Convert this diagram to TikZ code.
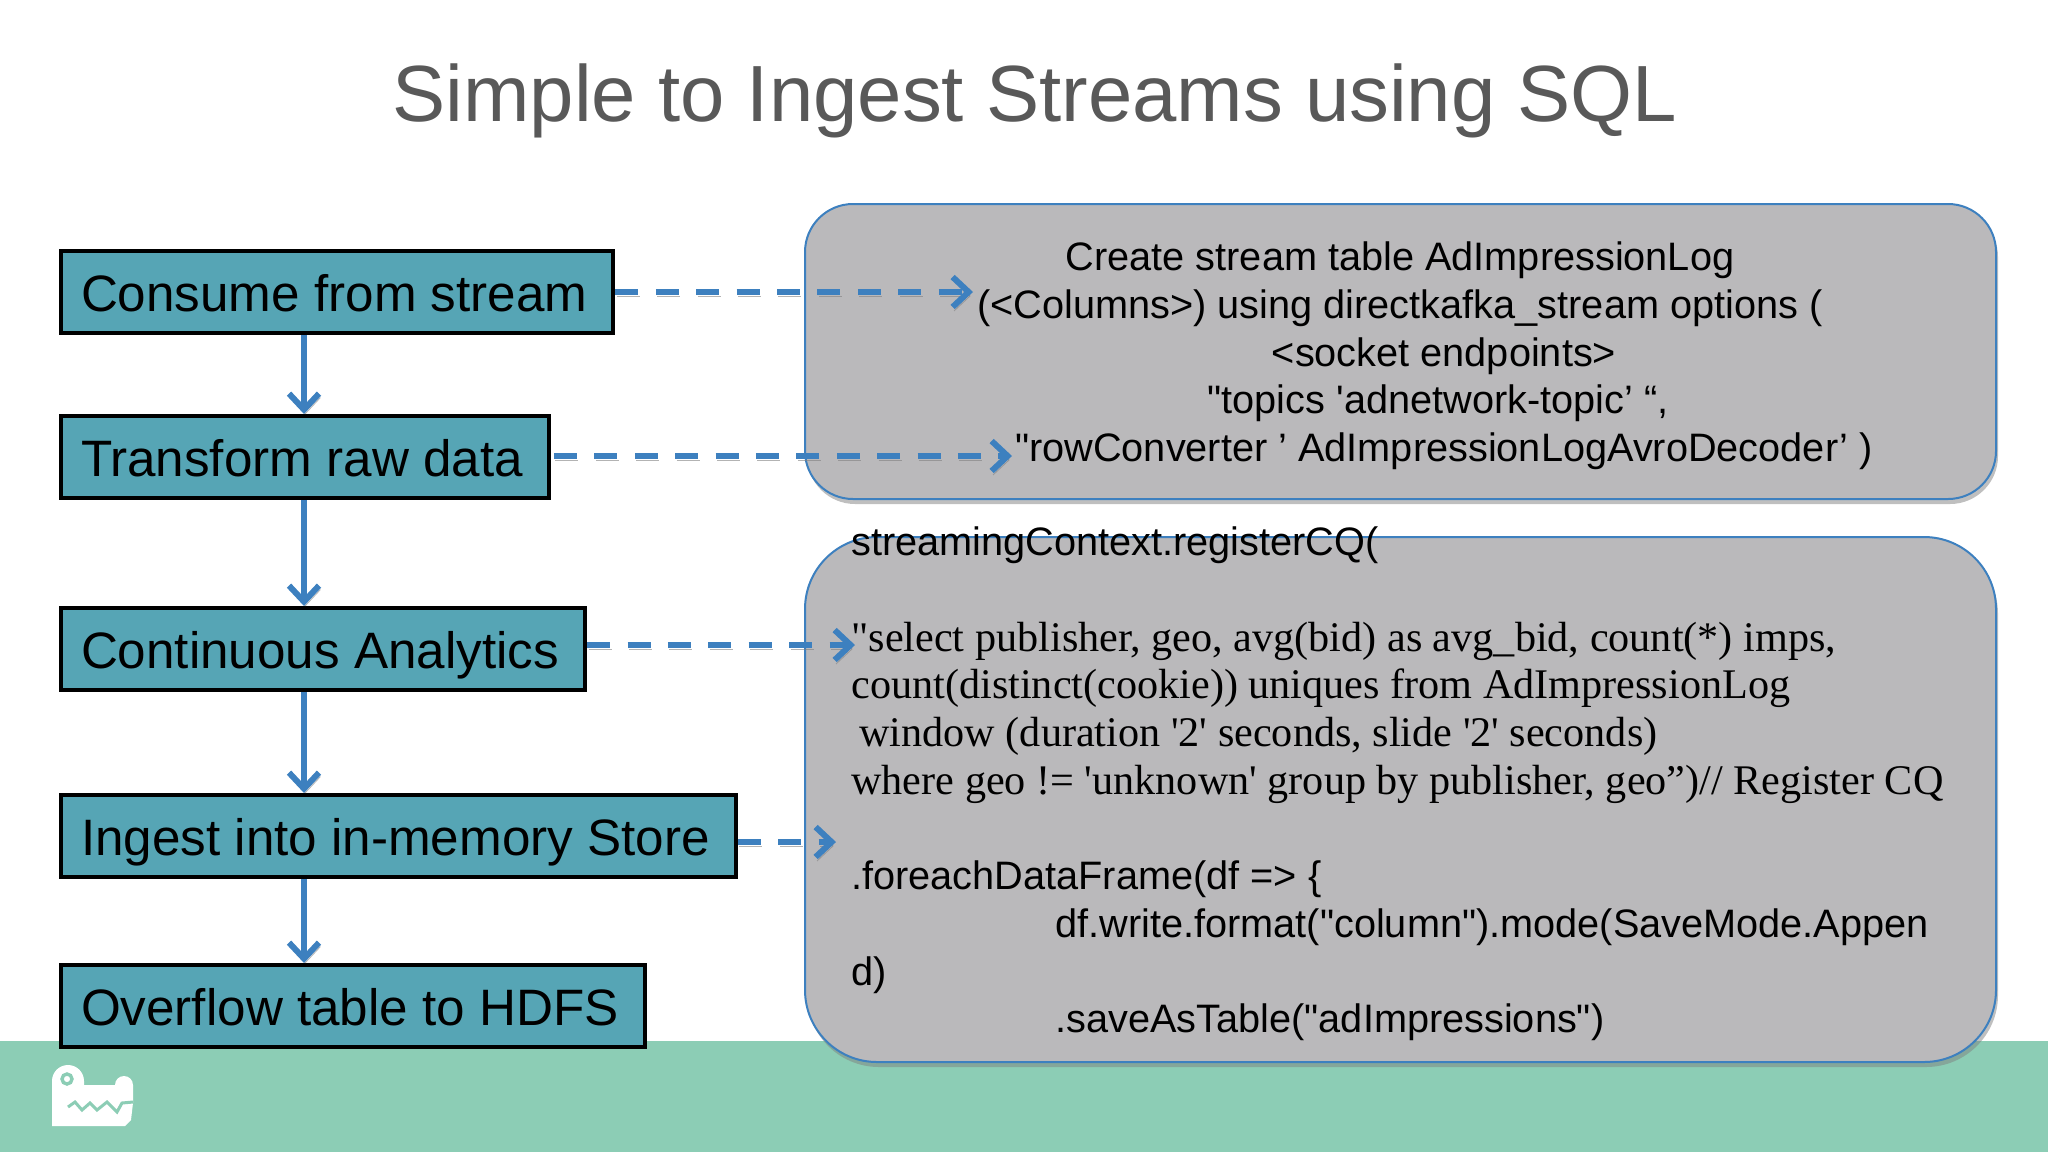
\documentclass[tikz,border=0pt]{standalone}
\usepackage{fontspec}
\setmainfont{Liberation Sans}[Ligatures=TeXOff]
\newfontfamily\serifcq{Liberation Serif}[Ligatures=TeXOff]
\usetikzlibrary{arrows.meta,shadows}
\definecolor{bandgreen}{HTML}{8CCDB5}
\definecolor{stagefill}{HTML}{56A5B5}
\definecolor{querygray}{HTML}{BAB9BB}
\definecolor{flowblue}{HTML}{3D80BF}
\definecolor{titlegray}{HTML}{595959}
\newcommand{\cqline}[1]{{\serifcq\fontsize{21.1}{23.85}\selectfont #1}}
\tikzset{
  stage/.style={draw=black,line width=2pt,fill=stagefill,anchor=west,inner xsep=10pt,
    inner ysep=0pt,minimum height=41pt,text height=24.7pt,text depth=5pt,
    execute at end node={\hspace{3pt}},font=\fontsize{25.6}{30}\selectfont},
  query/.style={draw=flowblue,line width=1pt,fill=querygray,
    drop shadow={shadow xshift=1pt,shadow yshift=-2.5pt,opacity=0.5}},
  codetext/.style={inner sep=0pt,font=\fontsize{19.85}{23.85}\selectfont},
  flow/.style={draw=flowblue,line width=3pt,-{Straight Barb[length=8pt,width=15pt]},
    preaction={draw=black!50,opacity=0.6,transform canvas={yshift=-2pt,xshift=0.7pt}}},
}
\begin{document}
\begin{tikzpicture}[x=0.5pt,y=-0.5pt]
  \useasboundingbox (0,0) rectangle (2048,1152);
  \fill [bandgreen] (0,1041) rectangle (2048,1152);
  \node (Title) at (1035,101) {\fontsize{39.85}{46}\selectfont\color{titlegray}Simple to Ingest Streams using SQL};
  % query panels
  \draw [query,rounded corners=24pt] (805,204) rectangle (1996,499);
  \draw [query,rounded corners=36pt] (805,537) rectangle (1996,1062);
  \node (Create) [align=center,codetext] at (1400,356) {%
    Create stream table AdImpressionLog\\
    (<Columns>) using directkafka\_stream options (\\
    \hspace*{44pt}<socket endpoints>\\
    \hspace*{38pt}"topics 'adnetwork-topic’ “,\\
    \hspace*{44pt}"rowConverter ’ AdImpressionLogAvroDecoder’ )};
  \node (Register) [anchor=west,align=left,codetext] at (851,784) {%
    streamingContext.registerCQ(\\
    \mbox{}\\
    \cqline{"select publisher, geo, avg(bid) as avg\_bid, count(*) imps,}\\
    \cqline{count(distinct(cookie)) uniques from AdImpressionLog}\\
    \cqline{\hspace*{4pt}window (duration '2' seconds, slide '2' seconds)}\\
    \cqline{where geo != 'unknown' group by publisher, geo”)// Register CQ}\\
    \mbox{}\\
    .foreachDataFrame(df => \{\\
    \hspace*{102pt}df.write.format("column").mode(SaveMode.Appen\\
    d)\\
    \hspace*{102pt}.saveAsTable("adImpressions")};
  % pipeline stages
  \node [stage](Consume) at (59,292) {Consume from stream};
  \node [stage](Transform) at (59,457) {Transform raw data};
  \node [stage](Analytics) at (59,649) {Continuous Analytics};
  \node [stage](Ingest) at (59,836) {Ingest into in-memory Store};
  \node [stage](Overflow) at (59,1006) {Overflow table to HDFS};
  \coordinate (Spine) at (304,0);
  \coordinate (A1) at (973,292);
  \coordinate (A2) at (1012,456);
  \coordinate (A3) at (855,645);
  \coordinate (A4) at (836,842);
  \draw [flow] (Consume.south -| Spine) -- (Transform.north -| Spine);
  \draw [flow] (Transform.south -| Spine) -- (Analytics.north -| Spine);
  \draw [flow] (Analytics.south -| Spine) -- (Ingest.north -| Spine);
  \draw [flow] (Ingest.south -| Spine) -- (Overflow.north -| Spine);
  \begin{scope}[dash pattern=on 11.5pt off 8.7pt]
    \draw [flow] (Consume.east) -- (A1);
    \draw [flow] (Transform.east |- A2) ++(3,0) -- (A2);
    \draw [flow] (Analytics.east |- A3) -- (A3);
    \draw [flow] (Ingest.east |- A4) -- (A4);
  \end{scope}
  % logo
  \fill [white] (52,1126) -- (52,1081) arc (180:360:16) -- (84,1085) -- (115,1085)
    arc (180:360:9) -- (133,1103) -- (131,1120) -- (125,1126) -- cycle;
  \draw [bandgreen,line width=1.7pt] (67,1079) circle (5);
  \draw [bandgreen,line width=1.5pt] (68,1107) -- (75,1102) -- (82,1110) -- (90,1103)
    -- (97,1110) -- (107,1102) -- (117,1112) -- (122,1103) -- (133,1102);
\end{tikzpicture}
\end{document}
